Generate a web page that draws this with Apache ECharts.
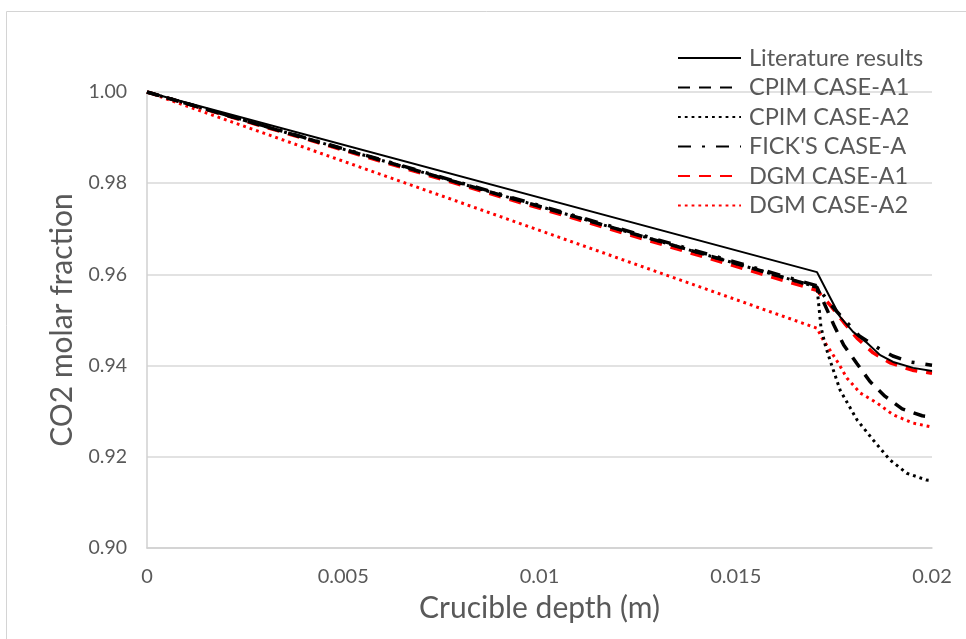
<!DOCTYPE html>
<html><head><meta charset="utf-8">
<script src="https://cdn.jsdelivr.net/npm/echarts@6/dist/echarts.min.js"></script>
<style>html,body{margin:0;padding:0;background:#fff}#c{width:966px;height:639px}</style>
</head><body><div id="c"></div>
<script>
const seriesNames = ['Literature results','CPIM CASE-A1','CPIM CASE-A2',"FICK'S CASE-A",'DGM CASE-A1','DGM CASE-A2'];
const xTickLabels = ['0','0.005','0.01','0.015','0.02'];
const yTickLabels = ['0.90','0.92','0.94','0.96','0.98','1.00'];

const litX = [0, 0.01707, 0.0174, 0.01766, 0.01799, 0.01834, 0.01868, 0.01901, 0.01952, 0.02];
const litY = [1.0, 0.9605, 0.955, 0.9507, 0.9474, 0.945, 0.9423, 0.9408, 0.9395, 0.9388];

const cpimA1X = [0, 0.01707, 0.0175, 0.01775, 0.01809, 0.01842, 0.0188, 0.01924, 0.01975, 0.02];
const cpimA1Y = [1.0, 0.9572, 0.9489, 0.9445, 0.9404, 0.9365, 0.9333, 0.9305, 0.929, 0.9287];

const cpimA2X = [0, 0.01707, 0.01717, 0.01728, 0.0174, 0.01766, 0.01809, 0.0185, 0.01893, 0.01936, 0.01986, 0.02];
const cpimA2Y = [1.0, 0.9572, 0.9485, 0.9445, 0.9412, 0.9346, 0.9281, 0.9237, 0.9193, 0.9164, 0.9149, 0.9148];

const fickX = [0, 0.01707, 0.0174, 0.01773, 0.01815, 0.0186, 0.019, 0.01944, 0.02];
const fickY = [1.0, 0.9575, 0.9535, 0.9504, 0.9465, 0.944, 0.9421, 0.9408, 0.9401];

const dgmA1X = [0, 0.01707, 0.0174, 0.01775, 0.01809, 0.0185, 0.01893, 0.0195, 0.02];
const dgmA1Y = [1.0, 0.9565, 0.9533, 0.9495, 0.946, 0.9428, 0.9406, 0.939, 0.9383];

const dgmA2X = [0, 0.01707, 0.0172, 0.0174, 0.01761, 0.01783, 0.01817, 0.0186, 0.01901, 0.01952, 0.02];
const dgmA2Y = [1.0, 0.9482, 0.946, 0.9434, 0.9406, 0.9373, 0.934, 0.9318, 0.9292, 0.9274, 0.9265];

const pairs = (xs, ys) => xs.map((x, i) => [x, ys[i]]);
const FONT = 'Lato, "Noto Sans", sans-serif';
const TXT = '#595959';

const styles = [
  {color:'#000000', width:2, type:'solid'},
  {color:'#000000', width:3.5, type:[12,9]},
  {color:'#000000', width:3, type:[2.8,4]},
  {color:'#000000', width:3.5, type:[13,11,3,11]},
  {color:'#ff0000', width:3.5, type:[12,9]},
  {color:'#ff0000', width:3, type:[2.8,4]}
];
const dataSets = [
  pairs(litX, litY), pairs(cpimA1X, cpimA1Y), pairs(cpimA2X, cpimA2Y),
  pairs(fickX, fickY), pairs(dgmA1X, dgmA1Y), pairs(dgmA2X, dgmA2Y)
];

const chart = echarts.init(document.getElementById('c'), null, {renderer:'canvas'});
chart.setOption({
  animation:false,
  backgroundColor:'#ffffff',
  textStyle:{fontFamily:FONT},
  graphic:[{type:'rect', shape:{x:6.5, y:11.5, width:1000, height:1000}, style:{fill:'none', stroke:'#d4d4d4', lineWidth:1}, silent:true}],
  grid:{left:147, right:34, top:92, bottom:91, containLabel:false},
  legend:{
    orient:'vertical', left:677, top:46, padding:0, itemWidth:63, itemHeight:14, itemGap:5.5,
    data:seriesNames,
    itemStyle:{color:'rgba(0,0,0,0)', borderWidth:0, opacity:0},
    textStyle:{color:TXT, fontSize:23.5, fontFamily:FONT, lineHeight:24, padding:[0,0,0,3]},
    selectedMode:false
  },
  xAxis:{
    type:'value', min:0, max:0.02, interval:0.005,
    name:'Crucible depth (m)', nameLocation:'middle', nameGap:45,
    nameTextStyle:{color:TXT, fontSize:30, fontFamily:FONT},
    axisLine:{show:true, lineStyle:{color:'#d0d0d0', width:1.5}},
    axisTick:{show:false},
    splitLine:{show:false},
    axisLabel:{color:TXT, fontSize:20, margin:19, fontFamily:FONT,
      formatter:v=>xTickLabels[Math.round(v/0.005)]}
  },
  yAxis:{
    type:'value', min:0.9, max:1.0, interval:0.02,
    name:'CO2 molar fraction', nameLocation:'middle', nameGap:69,
    nameTextStyle:{color:TXT, fontSize:30, fontFamily:FONT},
    axisLine:{show:true, lineStyle:{color:'#d0d0d0', width:1.5}},
    axisTick:{show:false},
    splitLine:{show:true, lineStyle:{color:'#d9d9d9', width:1.5}},
    axisLabel:{color:TXT, fontSize:19.5, margin:20, fontFamily:FONT,
      formatter:v=>yTickLabels[Math.round((v-0.9)/0.02)]}
  },
  series:seriesNames.map((n,i)=>({
    name:n, type:'line', data:dataSets[i], showSymbol:false, symbol:'none', smooth:false,
    lineStyle:{color:styles[i].color, width:styles[i].width, type:styles[i].type, cap:'butt'},
    itemStyle:{color:styles[i].color},
    z: 10-i
  }))
});
</script></body></html>
